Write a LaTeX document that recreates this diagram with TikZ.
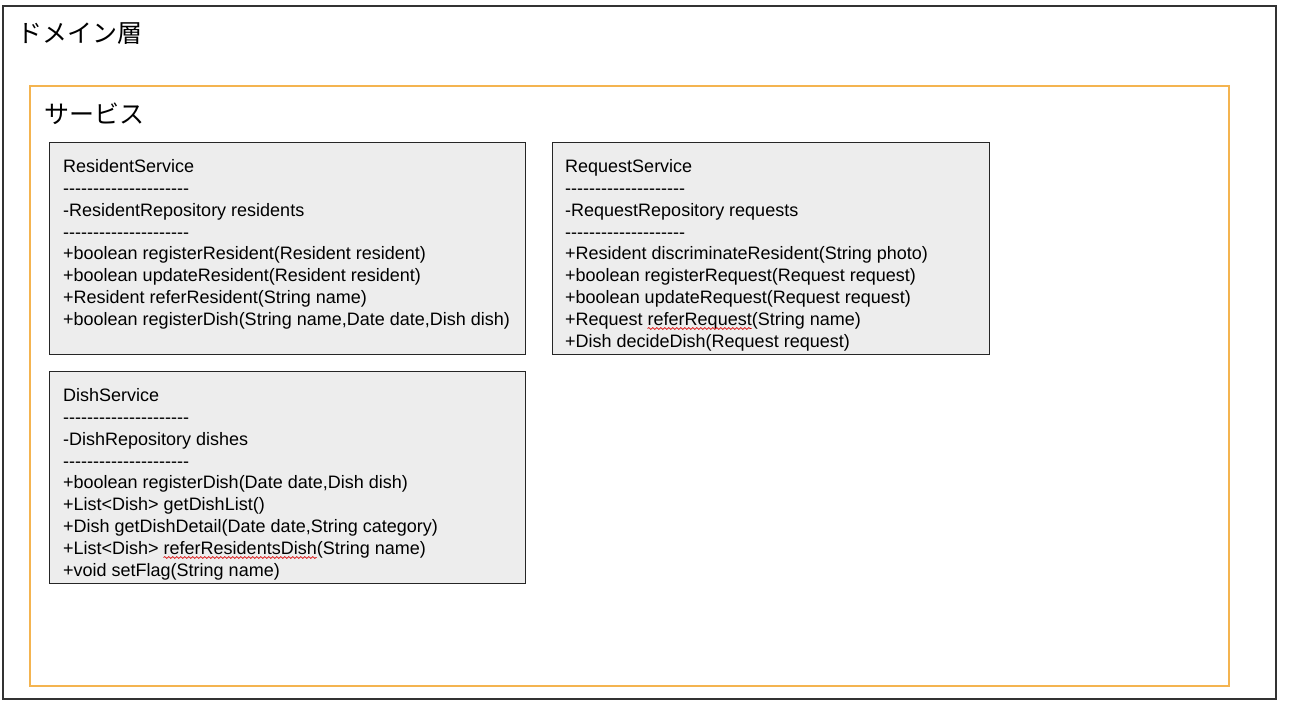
\documentclass[tikz,border=0pt]{standalone}
\usepackage{fontspec}
\setmainfont{Liberation Sans}[Ligatures=TeXOff]
\newfontfamily\jpfont{Noto Sans CJK JP}
\usetikzlibrary{positioning, calc, decorations.pathmorphing}

\definecolor{serviceorange}{RGB}{244,180,80}
\newlength{\reqwavestart}
\newlength{\reqwavelen}
\newlength{\dishwavestart}
\newlength{\dishwavelen}
\newcommand{\umlsize}{\fontsize{18}{21.8}\selectfont}
\AtBeginDocument{%
  \settowidth{\reqwavestart}{\umlsize +Request }%
  \settowidth{\reqwavelen}{\umlsize referRequest}%
  \settowidth{\dishwavestart}{\umlsize +List<Dish> }%
  \settowidth{\dishwavelen}{\umlsize referResidentsDish}}

\tikzset{
  layerframe/.style={draw=black!80, line width=1.3pt},
  serviceframe/.style={draw=serviceorange, line width=1.4pt},
  svcbox/.style={draw=black!85, line width=1pt, fill=black!7, anchor=north west, inner sep=0pt},
  svctext/.style={anchor=north west, align=left, inner sep=0pt, font=\umlsize},
  frametitle/.style={anchor=west, inner sep=0pt, font=\jpfont\fontsize{25}{25}\selectfont},
  spellmark/.style={draw=red!85!black, line width=0.7pt, decorate, decoration={snake, amplitude=0.9pt, segment length=4pt}}
}

\begin{document}
\begin{tikzpicture}[x=1pt, y=-1pt]
\useasboundingbox (0,0) rectangle (1294,714);
% outer layer and service area
\draw[layerframe] (3,6) rectangle (1276,699);
\node[frametitle] (domaintitle) at (17,34) {ドメイン層};
\draw[serviceframe] (30,86) rectangle (1229,686);
\node[frametitle] (servicetitle) at (44,114) {サービス};
% service classes
\node[svcbox, minimum width=476pt, minimum height=212pt] (resbox) at (49,142) {};
\node[svcbox, minimum width=437pt, minimum height=212pt] (reqbox) at (552,142) {};
\node[svcbox, minimum width=476pt, minimum height=212pt] (dishbox) at (49,371) {};

\node[svctext] (restext) at ([xshift=14pt, yshift=-17.5pt]resbox.north west) {ResidentService\\
---------------------\\
-ResidentRepository residents\\
---------------------\\
+boolean registerResident(Resident resident)\\
+boolean updateResident(Resident resident)\\
+Resident referResident(String name)\\
+boolean registerDish(String name,Date date,Dish dish)};

\node[svctext] (reqtext) at ([xshift=13pt, yshift=-17.5pt]reqbox.north west) {RequestService\\
--------------------\\
-RequestRepository requests\\
--------------------\\
+Resident discriminateResident(String photo)\\
+boolean registerRequest(Request request)\\
+boolean updateRequest(Request request)\\
+Request referRequest(String name)\\
+Dish decideDish(Request request)};

\node[svctext] (dishtext) at ([xshift=14pt, yshift=-17.5pt]dishbox.north west) {DishService\\
---------------------\\
-DishRepository dishes\\
---------------------\\
+boolean registerDish(Date date,Dish dish)\\
+List<Dish> getDishList()\\
+Dish getDishDetail(Date date,String category)\\
+List<Dish> referResidentsDish(String name)\\
+void setFlag(String name)};

% spell-check marks
\draw[spellmark] ([xshift=\reqwavestart, yshift=-169pt]reqtext.north west) -- ++(\reqwavelen,0);
\draw[spellmark] ([xshift=\dishwavestart, yshift=-169pt]dishtext.north west) -- ++(\dishwavelen,0);
\end{tikzpicture}
\end{document}
